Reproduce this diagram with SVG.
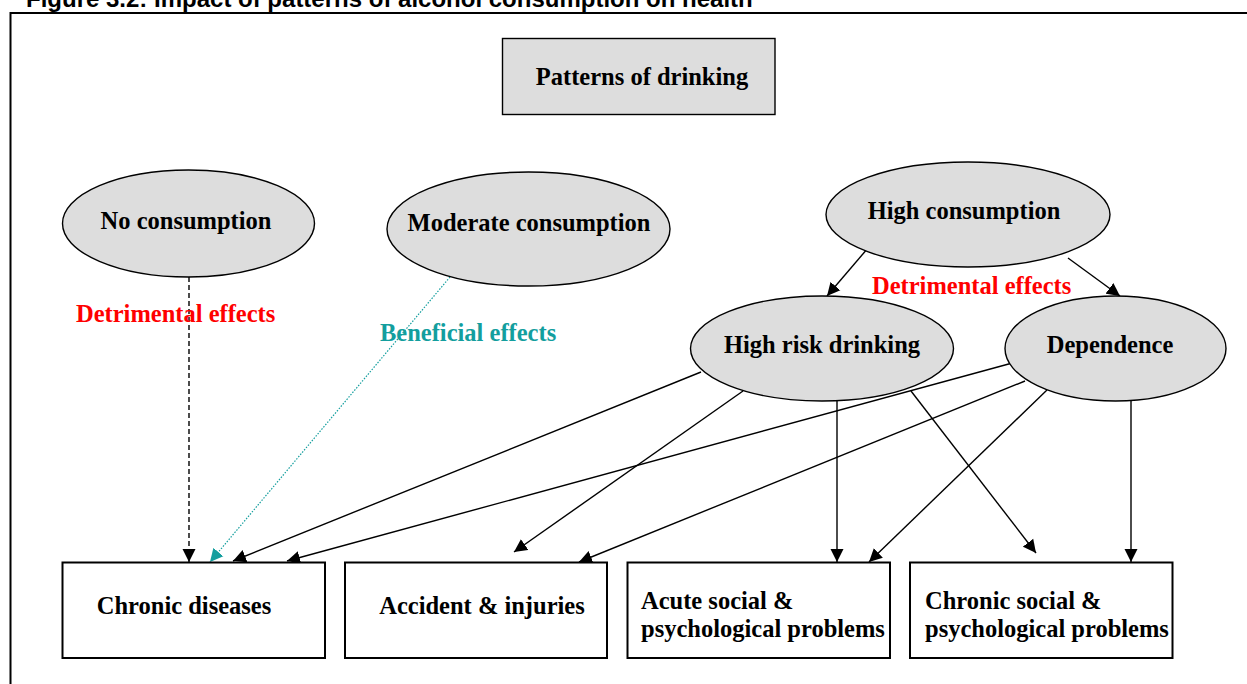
<svg xmlns="http://www.w3.org/2000/svg" width="1247" height="684" viewBox="0 0 1247 684">
<style>
.t{font-family:"Liberation Serif","Times New Roman",serif;font-weight:bold;font-size:24.5px;fill:#000}
.c{text-anchor:middle}
.red{fill:#ff0000}
.teal{fill:#139e9e}
.ell{fill:#dddddd;stroke:#000;stroke-width:1.4}
.box{fill:#fff;stroke:#000;stroke-width:2}
.ln{stroke:#000;stroke-width:1.4;fill:none}
</style>
<defs>
<marker id="ah" markerUnits="userSpaceOnUse" markerWidth="14" markerHeight="14" refX="13" refY="7" orient="auto" viewBox="0 0 14 14">
<path d="M0,0.5 L13,7 L0,13.5 z" fill="#000"/>
</marker>
<marker id="aht" markerUnits="userSpaceOnUse" markerWidth="14" markerHeight="14" refX="13" refY="7" orient="auto" viewBox="0 0 14 14">
<path d="M0,0.5 L13,7 L0,13.5 z" fill="#139e9e"/>
</marker>
</defs>
<rect width="1247" height="684" fill="#fff"/>
<text x="26" y="7" style="font-family:'Liberation Sans',Arial,sans-serif;font-weight:bold;font-size:24px">Figure 3.2: Impact of patterns of alcohol consumption on health</text>
<path d="M10.5,684 V13 H1247" fill="none" stroke="#000" stroke-width="2"/>

<g id="connectors">
<line class="ln" x1="189" y1="277" x2="189" y2="562" stroke-dasharray="5,3" marker-end="url(#ah)"/>
<line x1="450" y1="277" x2="210" y2="562" stroke="#139e9e" stroke-width="1.2" stroke-dasharray="1.5,1.5" marker-end="url(#aht)"/>
<line class="ln" x1="868" y1="248" x2="827" y2="296" marker-end="url(#ah)"/>
<line class="ln" x1="1068" y1="258" x2="1120" y2="296" marker-end="url(#ah)"/>
<line class="ln" x1="701" y1="372" x2="233" y2="561" marker-end="url(#ah)"/>
<line class="ln" x1="1016" y1="362" x2="287" y2="561" marker-end="url(#ah)"/>
<line class="ln" x1="743" y1="391" x2="514" y2="552" marker-end="url(#ah)"/>
<line class="ln" x1="1025" y1="381" x2="579" y2="562" marker-end="url(#ah)"/>
<line class="ln" x1="837" y1="401" x2="837" y2="562" marker-end="url(#ah)"/>
<line class="ln" x1="1047" y1="390" x2="869" y2="562" marker-end="url(#ah)"/>
<line class="ln" x1="911" y1="391" x2="1036" y2="553" marker-end="url(#ah)"/>
<line class="ln" x1="1131" y1="401" x2="1131" y2="562" marker-end="url(#ah)"/>
</g>

<g id="patterns">
<rect x="502.5" y="38.5" width="272.5" height="76" fill="#dddddd" stroke="#000" stroke-width="1.4"/>
<text class="t c" x="642" y="85">Patterns of drinking</text>
</g>
<g id="no-consumption">
<ellipse class="ell" cx="188.5" cy="223.5" rx="126" ry="53.5"/>
<text class="t c" x="186" y="229">No consumption</text>
</g>
<g id="moderate-consumption">
<ellipse class="ell" cx="528.5" cy="229" rx="141.5" ry="57"/>
<text class="t c" x="529" y="231">Moderate consumption</text>
</g>
<g id="high-consumption">
<ellipse class="ell" cx="968" cy="214.5" rx="142" ry="52.5"/>
<text class="t c" x="964" y="219">High consumption</text>
</g>
<g id="high-risk">
<ellipse class="ell" cx="822" cy="348.5" rx="131.5" ry="52.5"/>
<text class="t c" x="822" y="353">High risk drinking</text>
</g>
<g id="dependence">
<ellipse class="ell" cx="1115.5" cy="348.5" rx="110.5" ry="52.5"/>
<text class="t c" x="1110" y="353">Dependence</text>
</g>

<g id="labels">
<text class="t red" x="76" y="322">Detrimental effects</text>
<text class="t teal" x="380" y="341">Beneficial effects</text>
<text class="t red" x="872" y="294">Detrimental effects</text>
</g>

<g id="chronic-diseases">
<rect class="box" x="62.5" y="562.5" width="262.5" height="95.5"/>
<text class="t c" x="184" y="614">Chronic diseases</text>
</g>
<g id="accidents">
<rect class="box" x="345" y="562.5" width="262" height="95.5"/>
<text class="t c" x="482" y="614">Accident &amp; injuries</text>
</g>
<g id="acute-social">
<rect class="box" x="627.5" y="562.5" width="262.5" height="95.5"/>
<text class="t" x="641" y="609">Acute social &amp;</text>
<text class="t" x="641" y="637">psychological problems</text>
</g>
<g id="chronic-social">
<rect class="box" x="910" y="562.5" width="262.5" height="95.5"/>
<text class="t" x="925" y="609">Chronic social &amp;</text>
<text class="t" x="925" y="637">psychological problems</text>
</g>
</svg>
